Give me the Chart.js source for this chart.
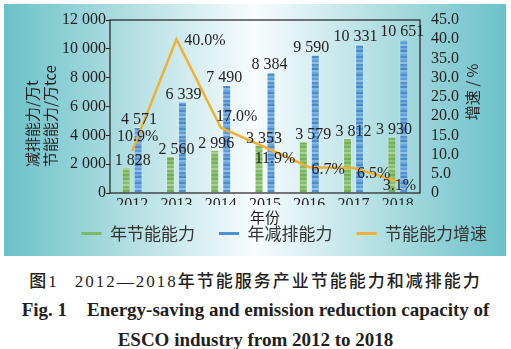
<!DOCTYPE html>
<html>
<head>
<meta charset="utf-8">
<script src="https://cdn.jsdelivr.net/npm/chart.js@4.4.0/dist/chart.umd.min.js"></script>
<style>
body{margin:0;background:#fff;width:511px;height:349px;overflow:hidden;position:relative}
#wrap{position:absolute;left:0;top:0;width:511px;height:258px}
.cap{position:absolute;left:0;width:511px;text-align:center;white-space:nowrap;color:#231f20}
.hei{font-family:"Noto Sans CJK SC";font-weight:500}
.ser{font-family:"Liberation Serif"}
#cap1{top:268px;font-size:17px;line-height:24px;letter-spacing:2px}
#cap2{top:299px;font:bold 19px "Liberation Serif";line-height:22px}
#cap3{top:329px;font:bold 19px "Liberation Serif";line-height:22px}
</style>
</head>
<body>
<div id="wrap"><canvas id="chart1" width="511" height="258"></canvas></div>
<div class="cap" id="cap1"><span class="hei">图</span><span class="ser">1</span><span style="margin-left:16px" class="ser">2012—2018</span><span class="hei">年节能服务产业节能能力和减排能力</span></div>
<div class="cap" id="cap2">Fig. 1<span style="margin-left:20px">Energy-saving and emission reduction capacity of</span></div>
<div class="cap" id="cap3">ESCO industry from 2012 to 2018</div>
<script>
// data
const years = ['2012', '2013', '2014', '2015', '2016', '2017', '2018'];
const savingCap = [1828, 2560, 2996, 3353, 3579, 3812, 3930];
const reductionCap = [4571, 6339, 7490, 8384, 9590, 10331, 10651];
const savingGrowth = [10.9, 40.0, 17.0, 11.9, 6.7, 6.5, 3.1];
const seriesNames = ['年节能能力', '年减排能力', '节能能力增速'];

// label placement (hand tuned like in the print)
const greenDx = [6.5, 6, 1.5, 5, 10, 6, 2];
const blueDx = [1, 1, -2.5, -1.5, -4, -4, -1.5];
const pctOffsets = [[5.5, -9.6], [28.6, 6], [16, -6.4], [10, 16], [19, 6.5], [20, 10], [1.6, 9]];

const legendColors = ['#7db865', '#4f8fd2', '#f0b030'];
const inkColor = '#231f20';
const serif = '"Liberation Serif", "Times New Roman", serif';
const cjk = '"Noto Sans CJK SC", sans-serif';

function fmtNum(n){
    if (n < 1000) return String(n);
    return Math.floor(n / 1000) + ' ' + String(n % 1000).padStart(3, '0');
}

// striped textures for the bars
function stripes(colors){
    var c = document.createElement('canvas');
    c.width = 4; c.height = colors.length * 2;
    var x = c.getContext('2d');
    colors.forEach(function(col, i){
        x.fillStyle = col;
        x.fillRect(0, i * 2, 4, 2);
    });
    return x.createPattern(c, 'repeat');
}
const ctx1 = document.getElementById('chart1').getContext('2d');
const greenFill = stripes(['#8cc273', '#77b05d', '#9acb82', '#84bc6a', '#a8d292', '#7db865', '#91c578', '#74ad5a']);
const blueFill = stripes(['#6aa5dd', '#4d8cce', '#78b0e3', '#5e9cd8', '#8dbfea', '#5390d0', '#6ea8df', '#4a88ca', '#81b7e6']);

const decor = {
    id: 'decor',
    afterLayout(chart){
        // pull legend row up a little, like the print
        if (chart.legend){
            chart.legend.top -= 4;
            chart.legend.bottom -= 4;
        }
    },
    beforeDraw(chart){
        const ctx = chart.ctx;
        const g = ctx.createLinearGradient(4, 0, 506, 0);
        g.addColorStop(0, '#6bc1c8');
        g.addColorStop(0.5, '#f8fcfd');
        g.addColorStop(1, '#6bc1c8');
        ctx.save();
        ctx.fillStyle = g;
        ctx.fillRect(4, 4, 502, 252);
        ctx.restore();
    },
    afterDatasetsDraw(chart){
        const ctx = chart.ctx;
        ctx.save();
        ctx.fillStyle = inkColor;
        ctx.font = '16px ' + serif;
        ctx.textAlign = 'center';
        ctx.textBaseline = 'alphabetic';
        const g = chart.getDatasetMeta(0).data;
        const b = chart.getDatasetMeta(1).data;
        const l = chart.getDatasetMeta(2).data;
        for (let i = 0; i < years.length; i++){
            ctx.fillText(fmtNum(savingCap[i]), g[i].x + greenDx[i], g[i].y - 2);
            ctx.fillText(fmtNum(reductionCap[i]), b[i].x + blueDx[i], b[i].y - 3);
            ctx.fillText(savingGrowth[i].toFixed(1) + '%', l[i].x + pctOffsets[i][0], l[i].y + pctOffsets[i][1]);
        }
        ctx.restore();
    },
    afterDraw(chart){
        const ctx = chart.ctx;
        const a = chart.chartArea;
        ctx.save();
        ctx.strokeStyle = inkColor;
        ctx.lineWidth = 1.2;
        ctx.strokeRect(a.left, a.top, a.right - a.left, a.bottom - a.top);
        ctx.fillStyle = inkColor;
        ctx.font = '15px ' + cjk;
        ctx.textBaseline = 'middle';
        // left axis title, two lines
        ctx.save();
        ctx.translate(32, 167);
        ctx.rotate(-Math.PI / 2);
        ctx.textAlign = 'left';
        ctx.fillText('减排能力/万t', 0, 0);
        ctx.fillText('节能能力/万tce', 0, 18);
        ctx.restore();
        // right axis title
        ctx.save();
        ctx.translate(472, 92);
        ctx.rotate(-Math.PI / 2);
        ctx.textAlign = 'center';
        ctx.fillText('增速 / %', 0, 0);
        ctx.restore();
        // x title
        ctx.textAlign = 'center';
        ctx.fillText('年份', (a.left + a.right) / 2, 217);
        ctx.restore();
    }
};

const chart = new Chart(ctx1, {
    type: 'bar',
    data: {
        labels: years,
        datasets: [{
            label: seriesNames[0],
            data: savingCap,
            backgroundColor: greenFill,
            borderColor: 'rgba(255,255,255,0.35)',
            borderWidth: 1,
            categoryPercentage: 0.54,
            barPercentage: 0.75,
            yAxisID: 'y'
        }, {
            label: seriesNames[1],
            data: reductionCap,
            backgroundColor: blueFill,
            borderColor: 'rgba(255,255,255,0.35)',
            borderWidth: 1,
            categoryPercentage: 0.54,
            barPercentage: 0.75,
            yAxisID: 'y'
        }, {
            type: 'line',
            label: seriesNames[2],
            data: savingGrowth,
            borderColor: legendColors[2],
            backgroundColor: legendColors[2],
            borderWidth: 2.5,
            pointRadius: 0,
            tension: 0,
            order: -1,
            yAxisID: 'y1'
        }]
    },
    options: {
        responsive: false,
        animation: false,
        devicePixelRatio: 1,
        layout: {padding: {left: 0, right: 0, top: 20, bottom: 2}},
        plugins: {
            tooltip: {enabled: false},
            legend: {
                position: 'bottom',
                align: 'end',
                labels: {
                    boxWidth: 20,
                    boxHeight: 3,
                    padding: 24,
                    color: '#333',
                    font: {family: cjk, size: 17},
                    sort: (a, b) => a.datasetIndex - b.datasetIndex,
                    generateLabels(chart){
                        const items = Chart.defaults.plugins.legend.labels.generateLabels(chart);
                        items.forEach(it => {
                            it.fillStyle = legendColors[it.datasetIndex];
                            it.strokeStyle = legendColors[it.datasetIndex];
                            it.lineWidth = 0;
                        });
                        return items;
                    }
                }
            }
        },
        scales: {
            x: {
                grid: {display: false, drawTicks: false},
                border: {display: false},
                ticks: {color: inkColor, font: {family: serif, size: 16}, padding: 2, maxRotation: 0},
                afterFit(s){ s.height = 12; }
            },
            y: {
                position: 'left',
                min: 0, max: 12000,
                grid: {drawOnChartArea: false, drawTicks: true, tickLength: 4, color: inkColor},
                border: {display: false},
                ticks: {stepSize: 2000, color: inkColor, font: {family: serif, size: 16}, padding: 0,
                    callback: v => fmtNum(v)},
                afterFit(s){ s.width = 110; }
            },
            y1: {
                position: 'right',
                min: 0, max: 45,
                grid: {display: false},
                border: {display: false},
                ticks: {stepSize: 5, autoSkip: false, color: inkColor, font: {family: serif, size: 16}, padding: 3,
                    callback: v => v === 0 ? '0' : v.toFixed(1)},
                afterFit(s){ s.width = 91; }
            }
        }
    },
    plugins: [decor]
});
</script>
</body>
</html>
